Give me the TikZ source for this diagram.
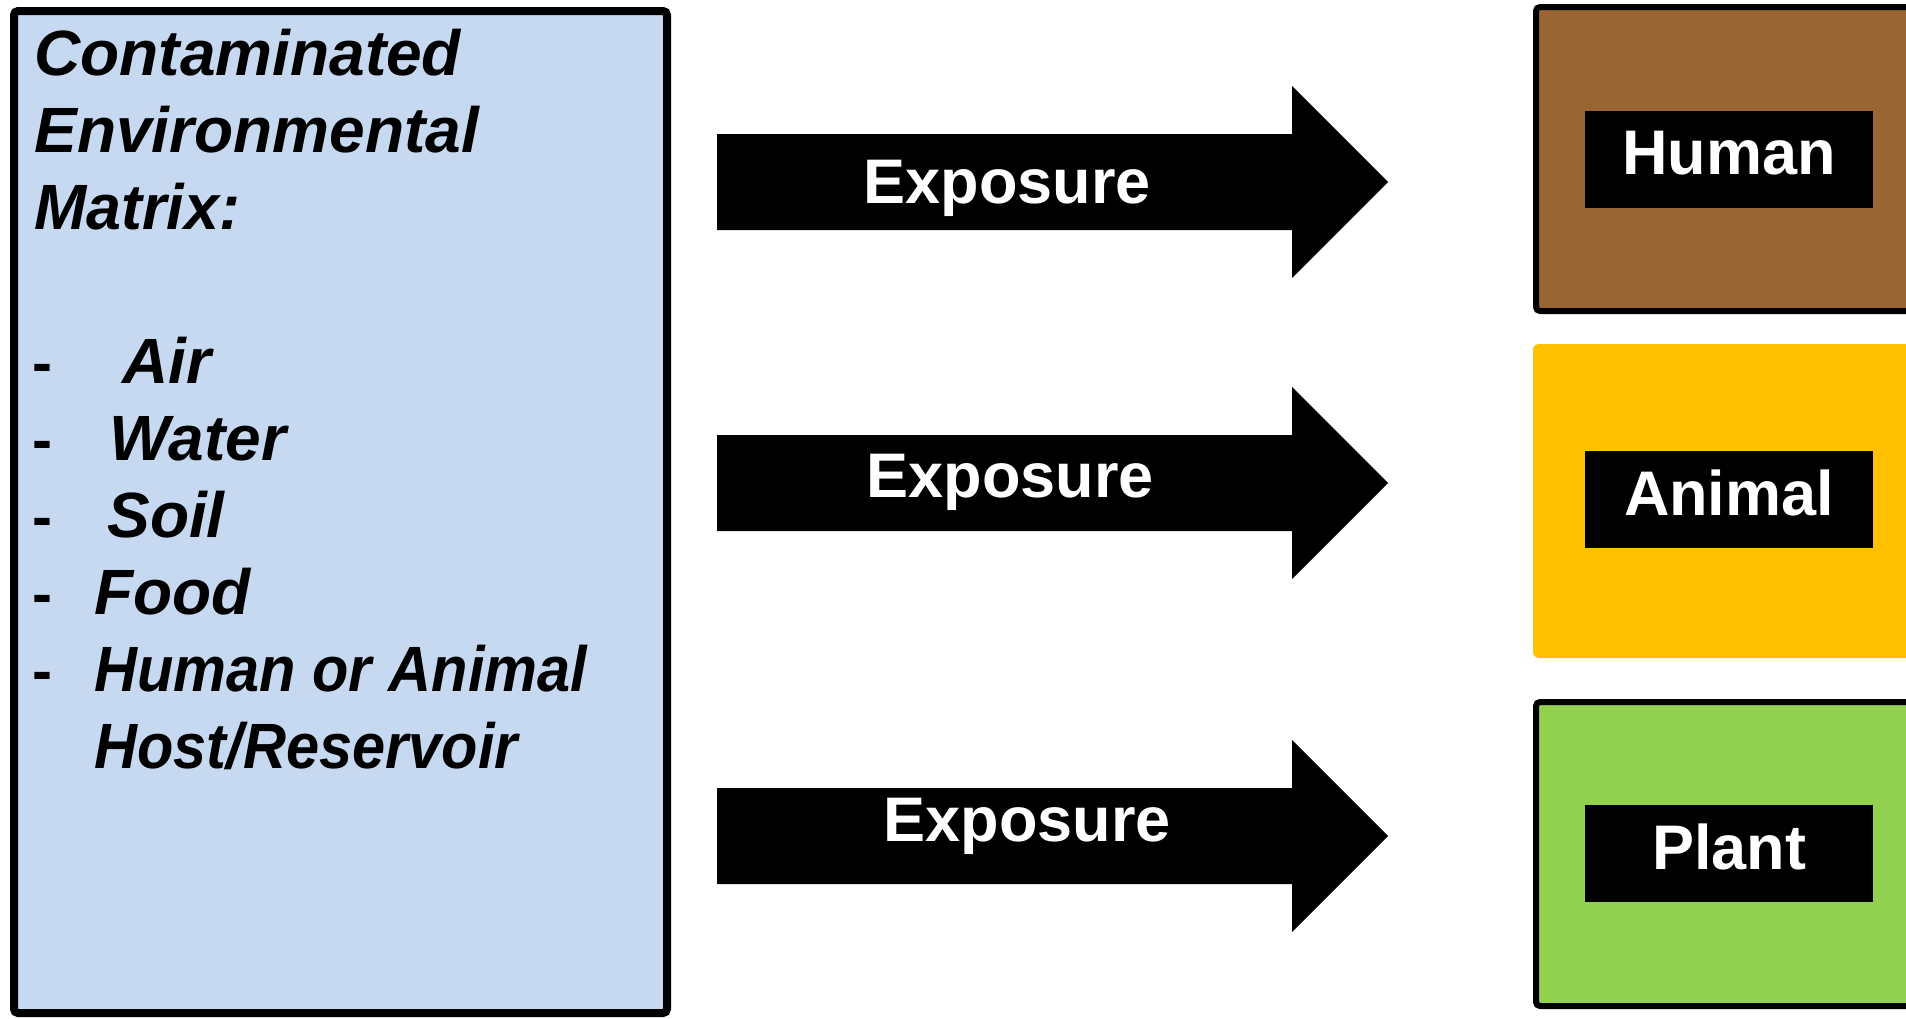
\documentclass[tikz,border=0pt]{standalone}
\usepackage{fontspec}
\setmainfont{Liberation Sans}
\definecolor{matrixblue}{HTML}{C6D9F1}
\definecolor{humanbrown}{HTML}{996633}
\definecolor{animalyellow}{HTML}{FFC000}
\definecolor{plantgreen}{HTML}{92D050}
\begin{document}
\begin{tikzpicture}[x=0.5pt,y=-0.5pt,
  lefttxt/.style={anchor=base west,inner sep=0pt,font=\fontsize{32}{38}\selectfont\bfseries\itshape},
  dashtxt/.style={anchor=base west,inner sep=0pt,font=\fontsize{30}{38}\selectfont\bfseries},
  exptxt/.style={anchor=base,inner sep=0pt,text=white,font=\fontsize{31.5}{36}\selectfont\bfseries},
  tagtxt/.style={anchor=base,inner sep=0pt,text=white,font=\fontsize{31.5}{36}\selectfont\bfseries},
  bigarrow/.style={fill=black},
  tagbox/.style={fill=black}]
\useasboundingbox (0,0) rectangle (1906,1018);
\clip (0,0) rectangle (1906,1018);
% left matrix box
\draw[line width=4pt,fill=matrixblue,rounded corners=2pt] (14,11) rectangle (667,1013);
\node[lefttxt] (t1) at (34,75) {Contaminated};
\node[lefttxt] (t2) at (34,152) {Environmental};
\node[lefttxt] (t3) at (34,229) {\scalebox{0.98}[1]{Matrix:}};
\node[dashtxt] (d1) at (32,383) {-};
\node[lefttxt] (i1) at (122,383) {Air};
\node[dashtxt] (d2) at (32,460) {-};
\node[lefttxt] (i2) at (109,460) {Water};
\node[dashtxt] (d3) at (32,537) {-};
\node[lefttxt] (i3) at (107,537) {Soil};
\node[dashtxt] (d4) at (32,614) {-};
\node[lefttxt] (i4) at (94,614) {Food};
\node[dashtxt] (d5) at (32,691) {-};
\node[lefttxt] (i5) at (94,691) {\scalebox{0.93}[1]{Human or Animal}};
\node[lefttxt] (i6) at (94,768) {\scalebox{0.93}[1]{Host/Reservoir}};
% arrows
\foreach \c in {182,483,836}{
  \fill[bigarrow] (717,\c-48) -- (1292,\c-48) -- (1292,\c-96) -- (1388,\c) -- (1292,\c+96) -- (1292,\c+48) -- (717,\c+48) -- cycle;
}
\node[exptxt] (e1) at (1007,203) {Exposure};
\node[exptxt] (e2) at (1010,497) {Exposure};
\node[exptxt] (e3) at (1027,841) {Exposure};
% right boxes
\draw[line width=3pt,fill=humanbrown,rounded corners=2pt] (1536,7) rectangle (1930,311);
\fill[animalyellow,rounded corners=3pt] (1533,344) rectangle (1930,658);
\draw[line width=3pt,fill=plantgreen,rounded corners=2pt] (1536,702) rectangle (1930,1006);
\fill[tagbox] (1585,111) rectangle (1873,208);
\fill[tagbox] (1585,451) rectangle (1873,548);
\fill[tagbox] (1585,805) rectangle (1873,902);
\node[tagtxt] (h) at (1729,174) {Human};
\node[tagtxt] (a) at (1729,515) {Animal};
\node[tagtxt] (p) at (1729,869) {Plant};
\end{tikzpicture}
\end{document}
